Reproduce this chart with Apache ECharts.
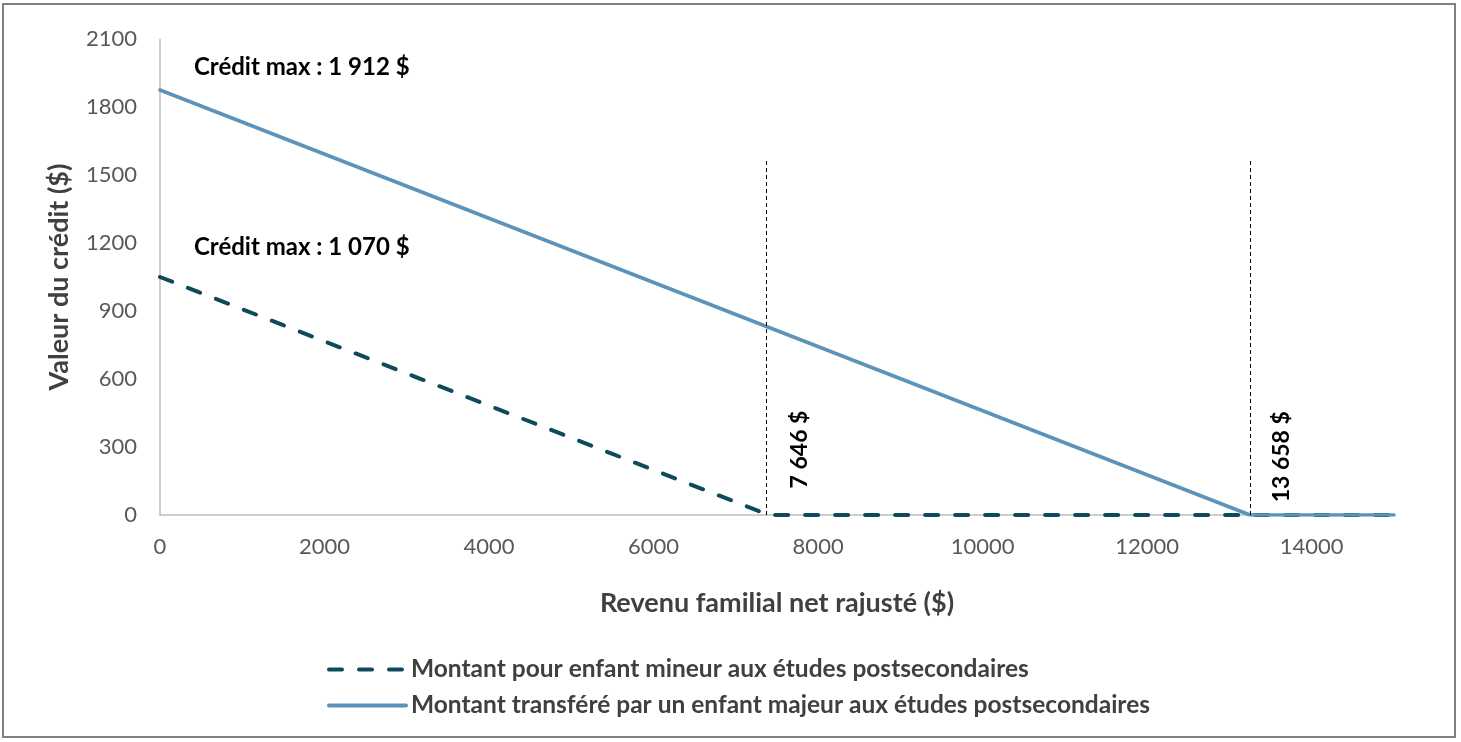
<!DOCTYPE html>
<html>
<head>
<meta charset="utf-8">
<script src="https://cdn.jsdelivr.net/npm/echarts@6/dist/echarts.min.js"></script>
<style>
html,body{margin:0;padding:0;background:#fff;}
#frame{position:absolute;left:2px;top:3px;width:1454px;height:735px;border:2px solid #7f7f7f;box-sizing:border-box;}
#c{position:absolute;left:0;top:0;width:1461px;height:742px;}
</style>
</head>
<body>
<div id="frame"></div>
<div id="c"></div>
<script>
// ---- data ----
var seriesNames = [
  'Montant pour enfant mineur aux études postsecondaires',
  'Montant transféré par un enfant majeur aux études postsecondaires'
];
var minorX = [0, 7400, 15000];
var minorY = [1050, 0, 0];
var majorX = [0, 13250, 15000];
var majorY = [1875, 0, 0];
var yTicks = [0, 300, 600, 900, 1200, 1500, 1800, 2100];
var xTicks = [0, 2000, 4000, 6000, 8000, 10000, 12000, 14000];
var thresholdX = [7365, 13250];
var thresholdTop = 1575;
var thresholdLabels = ['7 646 $', '13 658 $'];
var thresholdLabelAt = [[7770, 289], [13630, 257]];
var maxLabels = ['Crédit max : 1 912 $', 'Crédit max : 1 070 $'];
var maxLabelAt = [[413, 1975], [413, 1180]];

var FONT = 'Lato, "Open Sans", sans-serif';
function pairs(xs, ys) { return xs.map(function (x, i) { return [x, ys[i]]; }); }

var chart = echarts.init(document.getElementById('c'), null, {renderer: 'canvas'});
var option = {
  backgroundColor: 'transparent',
  animation: false,
  grid: {left: 160, right: 67, top: 39, bottom: 227, containLabel: false},
  xAxis: {
    type: 'value', min: 0, max: 15000, interval: 2000,
    name: 'Revenu familial net rajusté ($)', nameLocation: 'middle', nameGap: 75,
    nameTextStyle: {fontFamily: FONT, fontWeight: 'bold', fontSize: 27, color: '#404040'},
    axisLine: {show: true, lineStyle: {color: '#bfbfbf', width: 1.5}},
    axisTick: {show: false}, splitLine: {show: false},
    axisLabel: {fontFamily: FONT, fontSize: 22, color: '#595959', margin: 21, showMaxLabel: false,
      formatter: function (v) { return xTicks.indexOf(v) >= 0 ? String(v) : ''; }}
  },
  yAxis: {
    type: 'value', min: 0, max: 2100, interval: 300,
    name: 'Valeur du crédit ($)', nameLocation: 'middle', nameGap: 87,
    nameTextStyle: {fontFamily: FONT, fontWeight: 'bold', fontSize: 27, color: '#404040'},
    axisLine: {show: true, lineStyle: {color: '#bfbfbf', width: 1.5}},
    axisTick: {show: false}, splitLine: {show: false},
    axisLabel: {fontFamily: FONT, fontSize: 22, color: '#595959', margin: 23,
      formatter: function (v) { return yTicks.indexOf(v) >= 0 ? String(v) : ''; }}
  },
  legend: {
    orient: 'vertical', left: 322, top: 652, itemWidth: 77, itemHeight: 14, itemGap: 11,
    itemStyle: {opacity: 0},
    lineStyle: {width: 4},
    textStyle: {fontFamily: FONT, fontWeight: 'bold', fontSize: 24.5, color: '#404040'},
    data: seriesNames
  },
  series: [
    {
      name: seriesNames[0], type: 'line', symbol: 'none', showSymbol: false, data: pairs(minorX, minorY),
      lineStyle: {color: '#0d4a5a', width: 4, type: [13, 17], cap: 'round'},
      itemStyle: {color: '#0d4a5a'}, z: 3,
      markLine: {
        silent: true, symbol: 'none', label: {show: false},
        lineStyle: {color: '#000', width: 1, type: [4, 3]},
        data: thresholdX.map(function (x) { return [{coord: [x, 0]}, {coord: [x, thresholdTop]}]; })
      }
    },
    {
      name: seriesNames[1], type: 'line', symbol: 'none', showSymbol: false, data: pairs(majorX, majorY),
      lineStyle: {color: '#5b93ba', width: 3.5, type: 'solid', cap: 'round'},
      itemStyle: {color: '#5b93ba'}, z: 4
    }
  ]
};
chart.setOption(option);

var g = [];
thresholdLabels.forEach(function (t, i) {
  var p = chart.convertToPixel({gridIndex: 0}, thresholdLabelAt[i]);
  g.push({type: 'text', x: p[0], y: p[1], rotation: Math.PI / 2,
    style: {text: t, fontFamily: FONT, fontWeight: 'bold', fontSize: 23, fill: '#000', align: 'center', verticalAlign: 'middle'}});
});
maxLabels.forEach(function (t, i) {
  var p = chart.convertToPixel({gridIndex: 0}, maxLabelAt[i]);
  g.push({type: 'text', x: p[0], y: p[1],
    style: {text: t, fontFamily: FONT, fontWeight: 'bold', fontSize: 24, fill: '#000', align: 'left', verticalAlign: 'middle'}});
});
chart.setOption({graphic: g});
</script>
</body>
</html>
